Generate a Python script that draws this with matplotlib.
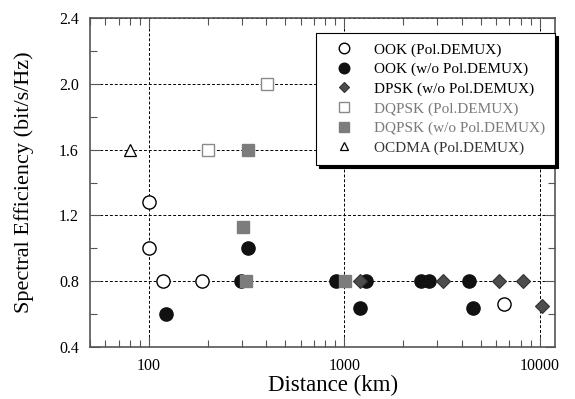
import numpy as np
import matplotlib
matplotlib.use('Agg')
import matplotlib.pyplot as plt
from matplotlib.ticker import FixedLocator, FixedFormatter, NullFormatter, LogLocator

plt.rcParams['font.family'] = ['Liberation Serif', 'DejaVu Serif']

# data
ook_pol_x = [100, 100, 118, 188, 6550]
ook_pol_y = [1.28, 1.0, 0.8, 0.8, 0.66]

ook_nopol_x = [122, 322, 296, 910, 1300, 1210, 2480, 2720, 4350, 4560]
ook_nopol_y = [0.6, 1.0, 0.8, 0.8, 0.8, 0.64, 0.8, 0.8, 0.8, 0.64]

dpsk_x = [1200, 3210, 6200, 8220, 10300]
dpsk_y = [0.8, 0.8, 0.8, 0.8, 0.65]

dqpsk_pol_x = [200, 402]
dqpsk_pol_y = [1.6, 2.0]

dqpsk_nopol_x = [303, 313, 322, 1015]
dqpsk_nopol_y = [1.13, 0.8, 1.6, 0.8]

ocdma_x = [80]
ocdma_y = [1.6]

fig = plt.figure(figsize=(5.75, 3.99), dpi=100)
ax = fig.add_axes([90/575, 1 - 347/399, 465/575, 329/399])

ax.set_xscale('log')
ax.set_xlim(50, 12000)
ax.set_ylim(0.4, 2.4)

ms = 9.5
ax.plot(ook_pol_x, ook_pol_y, 'o', ms=ms, mfc='white', mec='black', mew=1.0,
        ls='none', label='OOK (Pol.DEMUX)', zorder=5)
ax.plot(ook_nopol_x, ook_nopol_y, 'o', ms=ms, mfc='#111111', mec='#111111',
        ls='none', label='OOK (w/o Pol.DEMUX)', zorder=5)
ax.plot(dpsk_x, dpsk_y, 'D', ms=7, mfc='#4d4d4d', mec='#333333', mew=0.8,
        ls='none', label='DPSK (w/o Pol.DEMUX)', zorder=6)
ax.plot(dqpsk_pol_x, dqpsk_pol_y, 's', ms=9, mfc='white', mec='#8a8a8a', mew=1.0,
        ls='none', label='DQPSK (Pol.DEMUX)', zorder=5)
ax.plot(dqpsk_nopol_x, dqpsk_nopol_y, 's', ms=9, mfc='#7c7c7c', mec='#7c7c7c',
        ls='none', label='DQPSK (w/o Pol.DEMUX)', zorder=6)
ax.plot(ocdma_x, ocdma_y, '^', ms=8, mfc='white', mec='black', mew=0.9,
        ls='none', label='OCDMA (Pol.DEMUX)', zorder=5)

# ticks
ax.xaxis.set_major_locator(FixedLocator([100, 1000, 10000]))
ax.xaxis.set_major_formatter(FixedFormatter(['100', '1000', '10000']))
ax.xaxis.set_minor_locator(LogLocator(base=10, subs=np.arange(2, 10)))
ax.xaxis.set_minor_formatter(NullFormatter())
ax.set_yticks([0.4, 0.8, 1.2, 1.6, 2.0, 2.4])
ax.set_yticks(np.arange(0.6, 2.4, 0.4), minor=True)
ax.tick_params(which='both', direction='in', top=True, right=True,
               color='#555555', labelsize=11.5)
ax.tick_params(which='major', length=7, width=0.8)
ax.tick_params(which='minor', length=5, width=0.8)
ax.tick_params(axis='x', pad=8)
ax.tick_params(axis='y', pad=8)

ax.grid(True, which='major', ls=(0, (3, 2)), color='black', lw=0.7, zorder=0)

for sp in ax.spines.values():
    sp.set_color('#555555')
    sp.set_linewidth(1.2)

ax.set_xlabel('Distance (km)', fontsize=16.5)
ax.xaxis.set_label_coords(0.523, -0.085)
ax.set_ylabel('Spectral Efficiency (bit/s/Hz)', fontsize=16)
ax.yaxis.set_label_coords(-0.12, 0.5)

leg = ax.legend(loc='upper right', bbox_to_anchor=(1.0, 0.955), borderaxespad=0,
                fancybox=False, shadow={'color': 'black', 'alpha': 1.0}, framealpha=1,
                edgecolor='black', fontsize=11, handlelength=2.4, handletextpad=0.73,
                labelspacing=0.38, borderpad=0.65, markerscale=0.8)
leg.get_frame().set_linewidth(0.8)
for t, c in zip(leg.get_texts(), ['black', 'black', 'black', '#7a7a7a', '#7a7a7a', '#333333']):
    t.set_color(c)

fig.savefig('out.png', dpi=100)
